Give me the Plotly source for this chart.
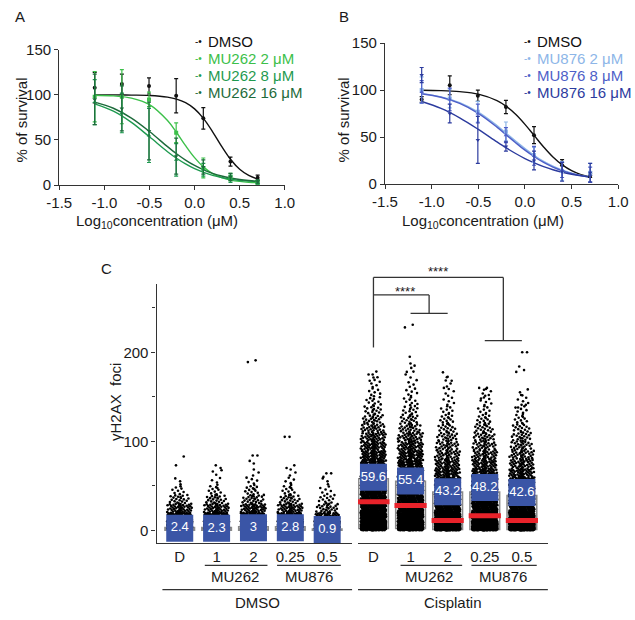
import plotly.graph_objects as go

W, H = 635, 620
FONT = "Liberation Sans, Arial, sans-serif"
TXT = "#1a1a1a"
AX = "#333333"

def px(x):
    return x / W

def py(y):
    return 1 - y / H

# ---------------- Panels A / B : dose-response data ----------------
log_conc = [-1.107, -0.806, -0.505, -0.204, 0.097, 0.398, 0.699]
curve_x = [-1.107, -0.9, -0.7, -0.5, -0.3, -0.2, -0.1, 0.0, 0.1, 0.2, 0.3, 0.4, 0.5, 0.6, 0.699]
x_ticks = [-1.5, -1.0, -0.5, 0.0, 0.5, 1.0]
x_ticktext = ["-1.5", "-1.0", "-0.5", "0.0", "0.5", "1.0"]
y_ticks = [0, 50, 100, 150]
y_ticktext = ["0", "50", "100", "150"]
symbols = ["circle", "square", "triangle-up", "triangle-down"]

a_names = ["DMSO", "MU262 2 μM", "MU262 8 μM", "MU262 16 μM"]
a_colors = ["#111111", "#3cc04a", "#1f9a50", "#1d6b3b"]
a_mean = [
    [108, 112, 110, 99, 74, 26, 8],
    [98, 98, 95, 58, 19, 9, 3],
    [92, 80, 55, 28, 17, 7, 3],
    [95, 85, 60, 32, 20, 9, 4],
]
a_err = [
    [17, 11, 9, 19, 12, 5, 3],
    [28, 30, 8, 11, 11, 4, 2],
    [25, 22, 30, 18, 7, 4, 2],
    [28, 25, 32, 20, 8, 4, 2],
]
a_curve = [
    [100, 100, 99.8, 99.4, 97.6, 95.4, 91.4, 84.5, 73.7, 59.1, 42.9, 28.3, 17.5, 10.6, 6.6],
    [99.7, 98.9, 96.5, 89.3, 71.6, 58.3, 43.7, 30.4, 19.9, 12.7, 8.2, 5.5, 4.0, 3.1, 2.6],
    [90, 81.9, 69.5, 53.5, 37, 29.7, 23.4, 18.1, 14, 10.8, 8.4, 6.6, 5.1, 4.4, 3.7],
    [92, 85.2, 74.3, 59.4, 42.6, 34.7, 27.7, 21.7, 16.8, 13, 10, 7.8, 6.2, 5.0, 4.1],
]

b_names = ["DMSO", "MU876 2 μM", "MU876 8 μM", "MU876 16 μM"]
b_colors = ["#111111", "#8db6e8", "#4e5fc8", "#2c3b9e"]
b_mean = [
    [90, 105, 94, 82, 52, 20, 9],
    [100, 91, 77, 56, 31, 14, 12],
    [98, 90, 75, 52, 30, 15, 10],
    [116, 75, 47, 40, 25, 13, 12],
]
b_err = [
    [3, 10, 6, 7, 9, 6, 2],
    [14, 10, 11, 10, 8, 10, 10],
    [12, 12, 10, 8, 10, 8, 8],
    [8, 10, 25, 5, 10, 10, 10],
]
b_curve = [
    [99.8, 99.4, 98.3, 95.6, 88.7, 82.6, 74.2, 63.5, 51.5, 39.5, 28.8, 20.4, 14.3, 10.1, 7.6],
    [96.2, 92.8, 86.6, 76.5, 62.2, 54, 45.7, 37.7, 30.4, 24.1, 19, 14.9, 11.7, 9.3, 7.6],
    [96, 92.3, 85.8, 75.2, 60.6, 52.3, 44, 36.1, 29.1, 23, 18.1, 14.2, 11.2, 9.0, 7.3],
    [87.8, 80.5, 70.5, 58.2, 44.8, 38.4, 32.5, 27.1, 22.5, 18.5, 15.2, 12.6, 10.5, 8.8, 7.4],
]

# ---------------- Panel C : gamma-H2AX foci ----------------
c_ticklabels = ["D", "1", "2", "0.25", "0.5"]
c_pos = [0, 1, 2, 3, 4]
c_yticks = [0, 100, 200]
c_yticktext = ["0", "100", "200"]
BIN = 10  # foci per count bin

dmso_means = [2.4, 2.3, 3, 2.8, 0.9]
dmso_q1 = [0, 0, 0, 0, 0]
dmso_median = [0.5, 0.5, 0.5, 0.5, 0.2]
dmso_q3 = [3, 3, 4, 4, 1.5]
dmso_counts = [
    [150, 90, 45, 20, 8, 3],
    [150, 90, 45, 22, 10, 4, 2],
    [150, 100, 50, 25, 12, 6, 3, 1],
    [150, 95, 45, 22, 10, 5, 3],
    [150, 60, 25, 12, 6, 3],
]
dmso_outliers = [
    [73, 83],
    [66, 70, 73],
    [78, 84, 84, 189, 191],
    [70, 73, 105, 105],
    [60, 64, 64],
]

cis_means = [59.6, 55.4, 43.2, 48.2, 42.6]
cis_q1 = [2, 2, 1, 1, 1]
cis_median = [32, 28, 11, 16.5, 11]
cis_q3 = [58, 55, 43, 43, 39]
cis_counts = [
    [400, 250, 200, 160, 130, 110, 90, 75, 60, 50, 40, 30, 22, 15, 10, 7, 5, 3],
    [420, 260, 200, 150, 120, 100, 85, 70, 55, 45, 35, 25, 18, 12, 8, 6, 4, 3, 2],
    [600, 250, 170, 120, 90, 70, 55, 45, 35, 28, 22, 16, 12, 8, 5, 4, 3, 2],
    [550, 260, 180, 130, 100, 80, 60, 48, 38, 30, 24, 18, 12, 8, 6, 4],
    [600, 240, 160, 110, 85, 65, 50, 40, 32, 25, 20, 15, 10, 7, 5, 3],
]
cis_outliers = [
    [168, 172, 175],
    [178, 185, 195, 228, 231],
    [160, 168, 172],
    [148, 152, 158, 160, 160],
    [138, 141, 152, 178, 180, 184, 200, 200],
]

BLUE = "#3a55a6"
RED = "#e8222a"
GRAY = "#8a8a8a"


def strip_points(counts, outliers, pos, halfw=0.34):
    """Lay the binned cell counts out as a deterministic strip (no randomness)."""
    xs, ys = [], []
    phi = 0.6180339887
    for b, n in enumerate(counts):
        spread = halfw * min(1.0, 0.45 + n / 60.0)
        for k in range(n):
            ys.append(b * BIN + (k + 0.5) * BIN / n)
            u = (k * phi + b * 0.382) % 1.0
            if k % 7 == 0:
                u = 0.5 + (u - 0.5) * 0.15
            xs.append(pos + (2 * u - 1) * spread)
    for j, v in enumerate(outliers):
        u = (j * phi + 0.2) % 1.0
        xs.append(pos + (2 * u - 1) * halfw * 0.5)
        ys.append(v)
    return xs, ys


fig = go.Figure()

# ---- A and B traces ----
for (names, colors, means, errs, curves, xa, ya) in [
    (a_names, a_colors, a_mean, a_err, a_curve, "x", "y"),
    (b_names, b_colors, b_mean, b_err, b_curve, "x2", "y2"),
]:
    for i in range(4):
        fig.add_trace(go.Scatter(
            x=curve_x, y=curves[i], mode="lines", line=dict(color=colors[i], width=1.4, shape="spline"),
            xaxis=xa, yaxis=ya, showlegend=False, hoverinfo="skip"))
    for i in range(4):
        fig.add_trace(go.Scatter(
            x=log_conc, y=means[i], mode="markers", name=names[i],
            marker=dict(color=colors[i], size=4, symbol=symbols[i]),
            error_y=dict(type="data", array=errs[i], visible=True, color=colors[i], thickness=1.2, width=2),
            xaxis=xa, yaxis=ya, showlegend=False))

# ---- C traces ----
for (counts, outl, q1, med, q3, means, xa, medsize) in [
    (dmso_counts, dmso_outliers, dmso_q1, dmso_median, dmso_q3, dmso_means, "x3", 17),
    (cis_counts, cis_outliers, cis_q1, cis_median, cis_q3, cis_means, "x4", 23),
]:
    allx, ally = [], []
    for g in range(5):
        xs, ys = strip_points(counts[g], outl[g], c_pos[g])
        allx += xs
        ally += ys
    fig.add_trace(go.Scatter(
        x=allx, y=ally, mode="markers", marker=dict(color="black", size=2.6, line=dict(width=0)),
        xaxis=xa, yaxis="y3", showlegend=False, hoverinfo="skip"))
    fig.add_trace(go.Box(
        x=c_pos, q1=q1, median=med, q3=q3, lowerfence=q1, upperfence=q3,
        width=0.8, whiskerwidth=0, boxpoints=False,
        line=dict(color=GRAY, width=1.6), fillcolor="rgba(0,0,0,0)",
        xaxis=xa, yaxis="y3", showlegend=False))
    fig.add_trace(go.Scatter(
        x=c_pos, y=med, mode="markers",
        marker=dict(symbol="line-ew", size=medsize, color=RED, line=dict(color=RED, width=5)),
        xaxis=xa, yaxis="y3", showlegend=False))
    fig.add_trace(go.Scatter(
        x=c_pos, y=means, mode="markers+text", text=[f"{m:g}" for m in means],
        textposition="middle center", textfont=dict(color="white", size=13, family=FONT),
        marker=dict(symbol="square", size=27, color=BLUE, line=dict(width=0)),
        xaxis=xa, yaxis="y3", showlegend=False))

# ---------------- Layout ----------------
axis_common = dict(showline=True, linecolor=AX, linewidth=1.3, showgrid=False, zeroline=False,
                   tickfont=dict(size=15, color=TXT, family=FONT), ticks="outside",
                   ticklen=4, tickcolor=AX, tickwidth=1.2)

layout = dict(
    width=W, height=H, margin=dict(l=0, r=0, t=0, b=0),
    paper_bgcolor="white", plot_bgcolor="white", showlegend=False,
    font=dict(family=FONT, color=TXT, size=15),
    xaxis=dict(domain=[px(48), px(282)], range=[-1.5, 1.0], tickvals=x_ticks, ticktext=x_ticktext,
               anchor="y", **axis_common),
    yaxis=dict(domain=[py(181), py(42)], range=[0, 150], tickvals=y_ticks, ticktext=y_ticktext,
               anchor="x", **axis_common),
    xaxis2=dict(domain=[px(386), px(628)], range=[-1.5, 1.0], tickvals=x_ticks, ticktext=x_ticktext,
                anchor="y2", **axis_common),
    yaxis2=dict(domain=[py(180), py(35)], range=[0, 150], tickvals=y_ticks, ticktext=y_ticktext,
                anchor="x2", **axis_common),
    xaxis3=dict(domain=[px(149), px(352)], range=[-0.6275, 4.68], tickvals=c_pos, ticktext=c_ticklabels,
                anchor="y3", showline=True, linecolor=AX, linewidth=1.3, showgrid=False, zeroline=False,
                ticks="", tickfont=dict(size=15, color=TXT, family=FONT)),
    xaxis4=dict(domain=[px(358), px(555)], range=[-0.4156, 4.701], tickvals=c_pos, ticktext=c_ticklabels,
                anchor="y3", showline=True, linecolor=AX, linewidth=1.3, showgrid=False, zeroline=False,
                ticks="", tickfont=dict(size=15, color=TXT, family=FONT)),
    yaxis3=dict(domain=[py(549), py(283)], range=[-14.2, 276.5], tickvals=c_yticks, ticktext=c_yticktext,
                anchor="x3", minor=dict(tickvals=[50, 150, 250], ticks="outside", ticklen=3, tickcolor=AX),
                **axis_common),
)
fig.update_layout(**layout)

ann = []

def note(text, x, y, size=15, color=TXT, xanchor="center", angle=0, xref="paper", yref="paper"):
    ann.append(dict(text=text, x=x, y=y, xref=xref, yref=yref, showarrow=False, xanchor=xanchor,
                    yanchor="middle", textangle=angle, font=dict(size=size, color=color, family=FONT)))

# panel letters
note("A", px(0), py(8), xanchor="left")
note("B", px(336), py(8), xanchor="left")
note("C", px(89), py(267), xanchor="left")

# axis titles
note("Log<sub>10</sub>concentration (μM)", px(149), py(218))
note("Log<sub>10</sub>concentration (μM)", px(488), py(218))
note("% of survival", px(9), py(114), angle=-90)
note("% of survival", px(343), py(114), angle=-90)
note("γH2AX  foci", px(107), py(404), angle=-90)

# legends (coloured text with a small line-and-dot key)
legend_rows = [33, 51, 68, 86]
for i in range(4):
    note("-•", px(198), py(legend_rows[i]), size=10, color=a_colors[i], xanchor="right")
    note(a_names[i], px(200), py(legend_rows[i]), color=a_colors[i], xanchor="left")
    note("-•", px(540), py(legend_rows[i]), size=10, color=b_colors[i], xanchor="right")
    note(b_names[i], px(542), py(legend_rows[i]), color=b_colors[i], xanchor="left")

# panel C group labels
for xa in ["x3", "x4"]:
    note("MU262", 1.5, py(584), xref=xa)
    note("MU876", 3.5, py(584), xref=xa)
note("DMSO", 2.1, py(610), xref="x3")
note("Cisplatin", 2.15, py(610), xref="x4")
note("μM", 4.78, py(563), xref="x4")
note("****", 1.75, py(270), size=13, xref="x4")
note("****", 0.85, py(290), size=13, xref="x4")

shapes = []

def seg(x0, y0, x1, y1, xref):
    shapes.append(dict(type="line", x0=x0, x1=x1, y0=y0, y1=y1, xref=xref, yref="paper",
                       line=dict(color=AX, width=1.3)))

# group underlines
seg(0.68, py(572), 2.38, py(572), "x3")
seg(2.64, py(572), 4.37, py(572), "x3")
seg(0.73, py(572), 2.39, py(572), "x4")
seg(2.64, py(572), 4.4, py(572), "x4")
seg(-0.47, py(597), 4.68, py(597), "x3")
seg(-0.42, py(597), 4.70, py(597), "x4")

# significance brackets
seg(0, py(276), 3.5, py(276), "x4")
seg(0, py(276), 0, py(348), "x4")
seg(3.5, py(276), 3.5, py(341), "x4")
seg(3.0, py(341), 4.0, py(341), "x4")
seg(0, py(294), 1.5, py(294), "x4")
seg(1.5, py(294), 1.5, py(313), "x4")
seg(1.0, py(313), 2.0, py(313), "x4")

fig.update_layout(annotations=ann, shapes=shapes)
fig.write_html("out.html")
